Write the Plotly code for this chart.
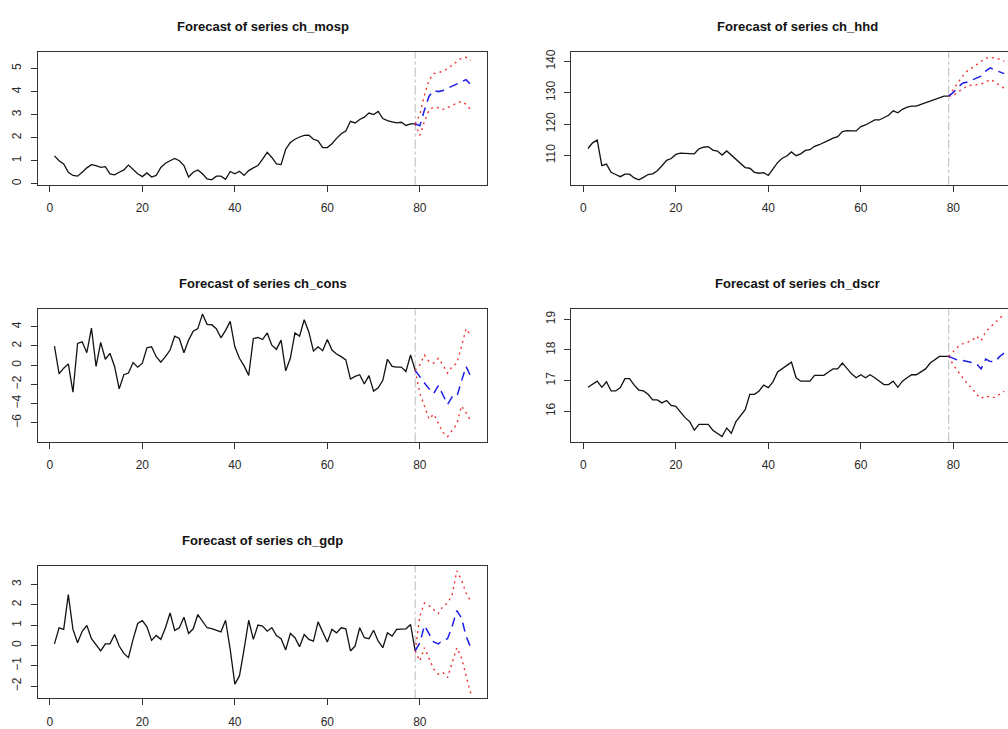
import plotly.graph_objects as go

# Observation index and forecast horizon
n_obs = 79
horizon = 12
t_hist = list(range(1, n_obs + 1))
t_fcst = list(range(n_obs, n_obs + horizon + 1))

# ---- observed series -------------------------------------------------------
ch_mosp = [1.21, 1.0, 0.86, 0.5, 0.36, 0.33, 0.5, 0.69, 0.83, 0.79,
           0.71, 0.74, 0.43, 0.39, 0.5, 0.6, 0.81, 0.6, 0.43, 0.31,
           0.47, 0.29, 0.36, 0.71, 0.89, 1.0, 1.1, 1.0, 0.79, 0.29,
           0.5, 0.6, 0.43, 0.21, 0.17, 0.33, 0.33, 0.19, 0.53, 0.43,
           0.54, 0.36, 0.57, 0.69, 0.79, 1.07, 1.36, 1.14, 0.86, 0.83,
           1.5, 1.79, 1.93, 2.03, 2.1, 2.11, 1.93, 1.86, 1.57, 1.57,
           1.74, 1.97, 2.17, 2.29, 2.71, 2.64, 2.79, 2.89, 3.07, 3.0,
           3.14, 2.83, 2.74, 2.69, 2.64, 2.67, 2.53, 2.6, 2.6]

ch_hhd = [112.2, 114.0, 114.9, 106.7, 107.2, 104.6, 103.9, 103.2, 104.0, 104.0,
          102.8, 102.2, 103.0, 103.9, 104.1, 105.1, 106.7, 108.4, 109.0, 110.3,
          110.7, 110.7, 110.7, 110.5, 112.1, 112.6, 112.8, 111.7, 111.4, 110.1,
          111.4, 110.0, 108.8, 107.4, 106.1, 105.9, 104.6, 104.3, 104.5, 103.6,
          105.6, 107.7, 109.1, 109.8, 111.1, 109.9, 110.5, 111.6, 111.8, 112.9,
          113.4, 114.0, 114.8, 115.5, 116.0, 117.6, 117.9, 117.8, 117.8, 119.2,
          119.7, 120.5, 121.3, 121.3, 122.0, 122.8, 124.2, 123.6, 124.7, 125.4,
          125.7, 125.7, 126.3, 126.8, 127.4, 128.0, 128.4, 128.9, 128.9]

ch_cons = [1.98, -0.9, -0.32, 0.13, -2.82, 2.25, 2.42, 1.29, 3.86, -0.14,
           2.36, 0.61, 1.23, -0.14, -2.47, -1.0, -0.83, 0.27, -0.21, 0.2,
           1.81, 1.91, 0.88, 0.3, 0.88, 1.57, 3.0, 2.77, 1.29, 2.6,
           3.52, 3.79, 5.31, 4.24, 4.2, 3.79, 2.84, 3.62, 4.55, 1.91,
           0.71, -0.08, -1.07, 2.77, 2.87, 2.66, 3.35, 2.08, 1.64, 2.6,
           -0.59, 0.71, 3.35, 3.0, 4.72, 3.45, 1.47, 1.91, 1.5, 2.66,
           1.57, 1.16, 0.88, 0.54, -1.45, -1.17, -1.0, -1.96, -1.1, -2.71,
           -2.37, -1.58, 0.61, -0.14, -0.21, -0.21, -0.66, 1.05, -0.55]

ch_dscr = [16.78, 16.88, 16.98, 16.78, 16.96, 16.66, 16.66, 16.77, 17.06, 17.06,
           16.85, 16.69, 16.66, 16.55, 16.37, 16.37, 16.27, 16.35, 16.19, 16.16,
           15.98, 15.79, 15.66, 15.38, 15.57, 15.57, 15.57, 15.38, 15.28, 15.17,
           15.45, 15.28, 15.66, 15.84, 16.05, 16.55, 16.55, 16.66, 16.85, 16.77,
           16.96, 17.28, 17.38, 17.49, 17.6, 17.09, 16.98, 16.98, 16.98, 17.17,
           17.17, 17.17, 17.28, 17.38, 17.38, 17.57, 17.4, 17.22, 17.09, 17.19,
           17.09, 17.19, 17.09, 16.98, 16.87, 16.87, 16.98, 16.78, 16.98, 17.09,
           17.19, 17.19, 17.28, 17.38, 17.57, 17.68, 17.79, 17.79, 17.79]

ch_gdp = [0.08, 0.87, 0.79, 2.5, 0.79, 0.13, 0.7, 0.98, 0.33, 0.05,
          -0.27, 0.08, 0.08, 0.54, -0.03, -0.39, -0.6, 0.3, 1.08, 1.22,
          0.92, 0.25, 0.49, 0.3, 0.87, 1.6, 0.74, 0.87, 1.39, 0.59,
          0.82, 1.52, 1.19, 0.87, 0.83, 0.74, 0.67, 1.24, -0.19, -1.9,
          -1.5, -0.19, 1.24, 0.3, 1.0, 0.95, 0.7, 0.87, 0.49, 0.33,
          -0.22, 0.59, 0.38, -0.06, 0.54, 0.3, 0.21, 1.16, 0.65, 0.17,
          0.79, 0.62, 0.87, 0.82, -0.27, -0.03, 0.87, 0.38, 0.33, 0.75,
          0.21, -0.11, 0.62, 0.46, 0.79, 0.79, 0.82, 1.03, -0.27]

# ---- point forecasts and confidence bounds (steps 80..91) ------------------
mosp_fc = [2.52, 3.2, 3.8, 4.05, 4.0, 4.05, 4.15, 4.25, 4.35, 4.45, 4.52, 4.3]
mosp_up = [3.0, 3.85, 4.5, 4.78, 4.83, 4.88, 5.0, 5.15, 5.3, 5.45, 5.49, 5.35]
mosp_lo = [2.1, 2.7, 3.2, 3.33, 3.3, 3.22, 3.3, 3.4, 3.5, 3.57, 3.45, 3.22]

hhd_fc = [130.1, 131.7, 133.0, 133.4, 134.0, 134.6, 135.3, 136.9, 137.9, 137.2, 136.6, 136.1]
hhd_up = [130.9, 133.2, 135.3, 136.9, 137.9, 139.0, 140.0, 141.0, 141.3, 141.0, 140.7, 140.0]
hhd_lo = [129.1, 130.3, 131.1, 132.2, 132.4, 132.5, 132.7, 133.4, 134.2, 133.4, 132.4, 131.4]

cons_fc = [-1.24, -1.86, -2.47, -2.95, -2.13, -3.16, -4.08, -3.29, -3.29, -1.68, -0.14, -1.17]
cons_up = [0.03, 1.05, 0.37, 0.2, 0.71, 0.03, -0.83, -0.14, 0.2, 1.91, 3.79, 3.1]
cons_lo = [-2.95, -4.25, -5.62, -5.1, -6.14, -7.0, -7.44, -6.8, -6.14, -4.25, -4.94, -5.8]

dscr_fc = [17.72, 17.66, 17.66, 17.62, 17.6, 17.55, 17.38, 17.7, 17.62, 17.62, 17.78, 17.9]
dscr_up = [17.95, 18.1, 18.2, 18.25, 18.3, 18.45, 18.3, 18.6, 18.75, 18.9, 19.05, 19.17]
dscr_lo = [17.5, 17.3, 17.1, 16.9, 16.75, 16.55, 16.42, 16.5, 16.45, 16.45, 16.55, 16.65]

gdp_fc = [0.13, 0.98, 0.54, 0.17, 0.08, 0.26, 0.33, 0.95, 1.71, 1.36, 0.46, -0.11]
gdp_up = [1.44, 2.09, 1.96, 1.76, 1.57, 1.93, 2.09, 2.5, 3.67, 3.23, 2.58, 2.17]
gdp_lo = [-0.76, -0.11, -0.68, -1.17, -1.41, -1.33, -1.58, -0.84, -0.11, -0.6, -1.5, -2.36]

series_names = ["ch_mosp", "ch_hhd", "ch_cons", "ch_dscr", "ch_gdp"]
x_tick_vals = [0, 20, 40, 60, 80]
y_tick_vals = {
    "ch_mosp": [0, 1, 2, 3, 4, 5],
    "ch_hhd": [110, 120, 130, 140],
    "ch_cons": [-6, -4, -2, 0, 2, 4],
    "ch_dscr": [16, 17, 18, 19],
    "ch_gdp": [-2, -1, 0, 1, 2, 3],
}

panels = {
    "ch_mosp": (ch_mosp, mosp_fc, mosp_up, mosp_lo),
    "ch_hhd": (ch_hhd, hhd_fc, hhd_up, hhd_lo),
    "ch_cons": (ch_cons, cons_fc, cons_up, cons_lo),
    "ch_dscr": (ch_dscr, dscr_fc, dscr_up, dscr_lo),
    "ch_gdp": (ch_gdp, gdp_fc, gdp_up, gdp_lo),
}

# ---- page geometry (pixels) ------------------------------------------------
W, H = 1008, 729
px_per_unit = 4.625
x_pad = 0.04 * (t_fcst[-1] - 1)
x_lo = 1 - x_pad
x_hi = t_fcst[-1] + x_pad
col_left_px = [37.8, 571.3]          # left edge of each column's plot box
row_top_px = [50, 310, 570]           # top edge of each row's plot box
box_h_px = 134
title_center_px = [262.7, 797.0]

layout_pos = {
    "ch_mosp": (0, 0),
    "ch_hhd": (0, 1),
    "ch_cons": (1, 0),
    "ch_dscr": (1, 1),
    "ch_gdp": (2, 0),
}

FONT = "Liberation Sans, Arial, Helvetica, sans-serif"
AXIS_COL = "#333333"
TICK_FONT = dict(size=12, color="#2a2a2a")

fig = go.Figure()
layout = dict(
    width=W, height=H,
    margin=dict(l=0, r=0, t=0, b=0),
    paper_bgcolor="white", plot_bgcolor="white",
    showlegend=False,
    font=dict(family=FONT, color="#222222", size=12),
    annotations=[], shapes=[],
)

for k, name in enumerate(series_names, start=1):
    hist, fc, up, lo = panels[name]
    row, col = layout_pos[name]
    xa = "x" if k == 1 else f"x{k}"
    ya = "y" if k == 1 else f"y{k}"

    last = hist[-1]
    fig.add_trace(go.Scatter(x=t_hist, y=hist, mode="lines", xaxis=xa, yaxis=ya,
                             line=dict(color="#111111", width=1.3)))
    fig.add_trace(go.Scatter(x=t_fcst, y=[last] + up, mode="lines", xaxis=xa, yaxis=ya,
                             line=dict(color="rgb(240,50,50)", width=1.4, dash="2px,4px")))
    fig.add_trace(go.Scatter(x=t_fcst, y=[last] + lo, mode="lines", xaxis=xa, yaxis=ya,
                             line=dict(color="rgb(240,50,50)", width=1.4, dash="2px,4px")))
    fig.add_trace(go.Scatter(x=t_fcst, y=[last] + fc, mode="lines", xaxis=xa, yaxis=ya,
                             line=dict(color="rgb(30,30,235)", width=1.5, dash="9px,6px")))

    # y range: data extent padded by 4% on each side
    all_y = hist + up + lo + fc
    ymin, ymax = min(all_y), max(all_y)
    ypad = 0.04 * (ymax - ymin)

    # horizontal geometry
    left_px = col_left_px[col]
    if col == 0:
        right_px = left_px + (x_hi - x_lo) * px_per_unit
        xr = [x_lo, x_hi]
    else:
        right_px = W
        xr = [x_lo, x_lo + (right_px - left_px) / px_per_unit]
    top_px = row_top_px[row]
    bot_px = top_px + box_h_px

    layout["xaxis" if k == 1 else f"xaxis{k}"] = dict(
        domain=[left_px / W, right_px / W], range=xr, anchor=ya,
        tickvals=x_tick_vals, ticks="outside", ticklen=6, tickwidth=1,
        tickcolor=AXIS_COL, showline=True, linecolor=AXIS_COL, linewidth=1,
        mirror=True, showgrid=False, zeroline=False,
        tickfont=TICK_FONT, ticklabelstandoff=6,
    )
    layout["yaxis" if k == 1 else f"yaxis{k}"] = dict(
        domain=[1 - bot_px / H, 1 - top_px / H], range=[ymin - ypad, ymax + ypad],
        anchor=xa, tickvals=y_tick_vals[name], ticks="outside", ticklen=6,
        tickwidth=1, tickcolor=AXIS_COL, showline=True, linecolor=AXIS_COL,
        linewidth=1, mirror=(col == 0), showgrid=False, zeroline=False,
        tickangle=-90, tickfont=TICK_FONT, ticklabelstandoff=5,
    )

    # vertical marker at the end of the observed sample
    layout["shapes"].append(dict(
        type="line", xref=xa, yref=f"{ya} domain", x0=n_obs, x1=n_obs, y0=0, y1=1,
        line=dict(color="#BBBBBB", width=1, dash="dashdot"), layer="below",
    ))

    layout["annotations"].append(dict(
        text=f"<b>Forecast of series {name}</b>", xref="paper", yref="paper",
        x=title_center_px[col] / W, y=1 - (top_px - 26) / H,
        xanchor="center", yanchor="middle", showarrow=False,
        font=dict(family=FONT, size=13, color="#111111"),
    ))

fig.update_layout(**layout)
fig.write_html("out.html")
